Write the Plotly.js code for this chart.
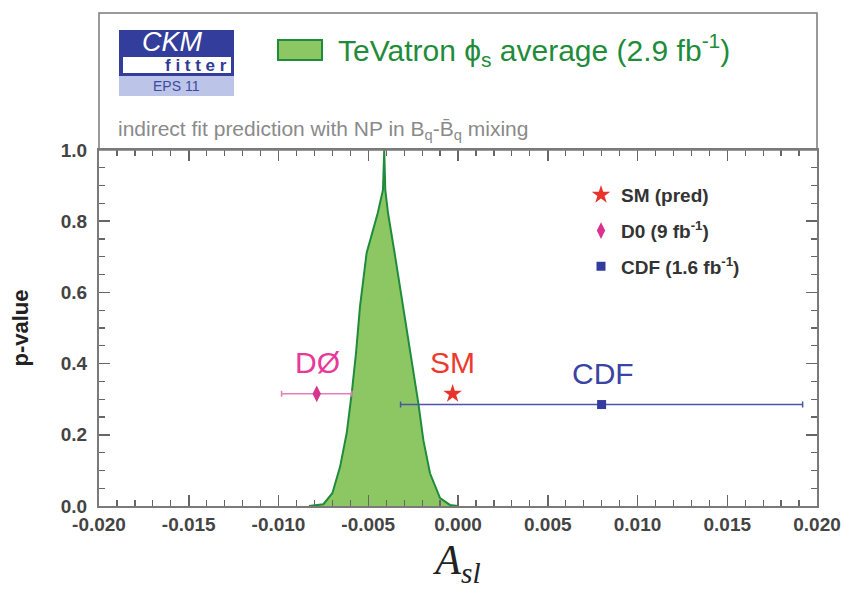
<!DOCTYPE html>
<html>
<head>
<meta charset="utf-8">
<script src="https://cdn.plot.ly/plotly-3.0.1.min.js"></script>
<style>html,body{margin:0;padding:0;background:#fff;}#chart{width:843px;height:589px;}</style>
</head>
<body>
<div id="chart"></div>
<script>
// Tevatron phi_s average p-value curve
const curveX = [-0.0083, -0.0078, -0.0075, -0.0070, -0.00657, -0.0062, -0.00592, -0.00568, -0.00546, -0.00509, -0.00447, -0.00418, -0.00411, -0.00405, -0.0039, -0.00353, -0.00305, -0.00249, -0.00221, -0.00193, -0.00156, -0.0010, -0.00045, 0.0];
const curveP = [0.0, 0.002, 0.005, 0.036, 0.11, 0.205, 0.317, 0.43, 0.56, 0.711, 0.823, 0.888, 1.0, 0.888, 0.823, 0.71, 0.56, 0.382, 0.289, 0.185, 0.092, 0.022, 0.003, 0.0];

// measurements
const smX = [-0.0003], smP = [0.315];
const d0X = [-0.00787], d0P = [0.315], d0Err = [0.00196];
const cdfX = [0.0080], cdfP = [0.285], cdfErr = [0.0112];

const seriesNames = ['SM (pred)', 'D0 (9 fb<sup>-1</sup>)', 'CDF (1.6 fb<sup>-1</sup>)'];
const pointLabels = ['DØ', 'SM', 'CDF'];
const pointLabelX = [-0.0078, -0.00028, 0.00808];
const pointLabelP = [0.402, 0.402, 0.371];

const xTickVals = [-0.020, -0.015, -0.010, -0.005, 0.000, 0.005, 0.010, 0.015, 0.020];
const xTickText = ['-0.020', '-0.015', '-0.010', '-0.005', '0.000', '0.005', '0.010', '0.015', '0.020'];
const yTickVals = [0.0, 0.2, 0.4, 0.6, 0.8, 1.0];
const yTickText = ['0.0', '0.2', '0.4', '0.6', '0.8', '1.0'];

const FONT = 'Liberation Sans, Arial, Helvetica, sans-serif';
const GREEN = '#1f8c3b', GREENFILL = '#8dc763';
const RED = '#e8322a', MAG = '#d8348f', BLUE = '#333c9c';

const traces = [
  {x: curveX, y: curveP, type: 'scatter', mode: 'lines', fill: 'tozeroy',
   fillcolor: GREENFILL, line: {color: GREEN, width: 2}, showlegend: false, hoverinfo: 'skip'},
  {x: smX, y: smP, type: 'scatter', mode: 'markers', name: seriesNames[0], legendgroup: 'a',
   marker: {symbol: 'star', size: 14, color: RED}},
  {x: d0X, y: d0P, type: 'scatter', mode: 'markers', name: seriesNames[1], legendgroup: 'b',
   marker: {symbol: 'diamond-tall', size: 12, color: MAG},
   error_x: {type: 'data', array: d0Err, color: '#e57fb8', thickness: 1.5, width: 3}},
  {x: cdfX, y: cdfP, type: 'scatter', mode: 'markers', name: seriesNames[2], legendgroup: 'c',
   marker: {symbol: 'square', size: 9, color: BLUE},
   error_x: {type: 'data', array: cdfErr, color: '#4b55a8', thickness: 1.5, width: 3}}
];

// pixel helpers for header (paper coords)
const L = 99, R = 817, T = 150, B = 506;
const px = v => (v - L) / (R - L);
const py = v => (B - v) / (B - T);

const annotations = [];
for (let i = 0; i < pointLabels.length; i++) {
  annotations.push({x: pointLabelX[i], y: pointLabelP[i], xref: 'x', yref: 'y', text: pointLabels[i],
    showarrow: false, xanchor: 'center', yanchor: 'middle',
    font: {family: FONT, size: 30, color: [ '#e8399a', '#ec3b2e', '#3a44a2'][i]}});
}
annotations.push(
  {x: px(172), y: py(42), xref: 'paper', yref: 'paper', text: '<i>CKM</i>', showarrow: false,
   xanchor: 'center', yanchor: 'middle', font: {family: FONT, size: 27, color: '#ffffff'}},
  {x: px(229), y: py(65), xref: 'paper', yref: 'paper', text: 'f i t t e r', showarrow: false,
   xanchor: 'right', yanchor: 'middle', font: {family: FONT, size: 17, color: '#2f3a98', weight: 'bold'}},
  {x: px(176), y: py(86), xref: 'paper', yref: 'paper', text: 'EPS 11', showarrow: false,
   xanchor: 'center', yanchor: 'middle', font: {family: FONT, size: 14, color: '#3c4aa0'}},
  {x: px(336), y: py(50), xref: 'paper', yref: 'paper',
   text: 'TeVatron \u03d5<sub>s</sub> average (2.9 fb<sup>-1</sup>)', showarrow: false,
   xanchor: 'left', yanchor: 'middle', font: {family: FONT, size: 30, color: GREEN}},
  {x: px(116), y: py(130), xref: 'paper', yref: 'paper',
   text: 'indirect fit prediction with NP in B<sub>q</sub>-B\u0304<sub>q</sub> mixing', showarrow: false,
   xanchor: 'left', yanchor: 'middle', font: {family: FONT, size: 21, color: '#8a8a8a'}}
);

const shapes = [
  {type: 'rect', xref: 'paper', yref: 'paper', x0: 0, x1: 1, y0: 1, y1: py(13),
   line: {color: '#7a7a7a', width: 1.5}, fillcolor: 'rgba(0,0,0,0)'},
  {type: 'rect', xref: 'paper', yref: 'paper', x0: px(119), x1: px(234), y0: py(76), y1: py(30),
   line: {width: 0}, fillcolor: '#333d9b'},
  {type: 'rect', xref: 'paper', yref: 'paper', x0: px(123), x1: px(231), y0: py(73), y1: py(57),
   line: {width: 0}, fillcolor: '#ffffff'},
  {type: 'rect', xref: 'paper', yref: 'paper', x0: px(119), x1: px(234), y0: py(96), y1: py(76),
   line: {width: 0}, fillcolor: '#bcc4e8'},
  {type: 'rect', xref: 'paper', yref: 'paper', x0: px(278), x1: px(322), y0: py(60), y1: py(40),
   line: {color: GREEN, width: 2}, fillcolor: GREENFILL}
];

const tickStyle = {ticks: 'inside', ticklen: 11, tickwidth: 1.5, tickcolor: '#666',
  showgrid: false, zeroline: false};

const layout = {
  width: 843, height: 589,
  margin: {l: L, r: 843 - R, t: T, b: 589 - B, pad: 0},
  paper_bgcolor: '#ffffff', plot_bgcolor: '#ffffff',
  font: {family: FONT},
  showlegend: true,
  legend: {x: px(581), y: py(176), xref: 'paper', yref: 'paper', xanchor: 'left', yanchor: 'top',
    bgcolor: 'rgba(0,0,0,0)', borderwidth: 0, tracegroupgap: 8, traceorder: 'grouped',
    font: {family: FONT, size: 19, color: '#333333', weight: 'bold'}},
  xaxis: Object.assign({range: [-0.020, 0.020], tickmode: 'array', tickvals: xTickVals, ticktext: xTickText,
    mirror: 'ticks', showline: true, linecolor: '#7a7a7a', linewidth: 2,
    minor: {dtick: 0.001, tick0: -0.02, ticks: 'inside', ticklen: 6, tickwidth: 1.2, tickcolor: '#666', showgrid: false},
    tickfont: {family: FONT, size: 19, color: '#444', weight: 'bold'},
    title: {text: '<i>A</i><sub><i>sl</i></sub>', standoff: 14,
      font: {family: 'Liberation Serif, DejaVu Serif, serif', size: 42, color: '#222'}}}, tickStyle),
  xaxis2: Object.assign({range: [-0.020, 0.020], overlaying: 'x', side: 'top', anchor: 'y',
    tickmode: 'array', tickvals: xTickVals, showticklabels: false, showline: false,
    minor: {dtick: 0.001, tick0: -0.02, ticks: 'inside', ticklen: 6, tickwidth: 1.2, tickcolor: '#666', showgrid: false}}, tickStyle),
  yaxis: Object.assign({range: [0, 1], tickmode: 'array', tickvals: yTickVals, ticktext: yTickText,
    mirror: 'ticks', showline: true, linecolor: '#7a7a7a', linewidth: 2,
    minor: {dtick: 0.05, tick0: 0, ticks: 'inside', ticklen: 6, tickwidth: 1.2, tickcolor: '#666', showgrid: false},
    tickfont: {family: FONT, size: 19, color: '#444', weight: 'bold'},
    ticklabelstandoff: 6,
    title: {text: 'p-value', standoff: 26, font: {family: FONT, size: 22, color: '#222', weight: 'bold'}}}, tickStyle),
  yaxis2: Object.assign({range: [0, 1], overlaying: 'y', side: 'right', anchor: 'x',
    tickmode: 'array', tickvals: yTickVals, showticklabels: false, showline: false,
    minor: {dtick: 0.05, tick0: 0, ticks: 'inside', ticklen: 6, tickwidth: 1.2, tickcolor: '#666', showgrid: false}}, tickStyle),
  annotations: annotations,
  shapes: shapes
};

Plotly.newPlot('chart', traces, layout, {staticPlot: true, displayModeBar: false});
</script>
</body>
</html>
